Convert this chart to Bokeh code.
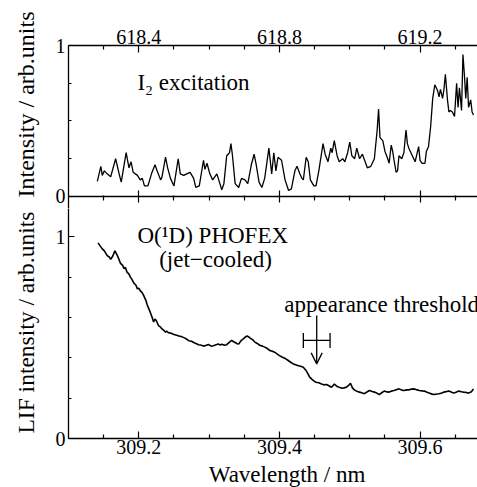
import numpy as np
from bokeh.plotting import figure
from bokeh.models import Range1d, LinearAxis, FixedTicker, Label, Arrow, OpenHead, Title
from bokeh.layouts import column
from bokeh.embed import file_html
from bokeh.resources import INLINE

FONT = "Liberation Serif"

# ---------------- data ----------------
wl_start, wl_end = 309.1, 309.6817

i2_wl = [309.141, 309.146, 309.148, 309.151, 309.155, 309.160, 309.167, 309.172, 309.175, 309.182,
         309.186, 309.189, 309.192, 309.198, 309.202, 309.205, 309.208, 309.213, 309.218, 309.223,
         309.226, 309.231, 309.233, 309.238, 309.241, 309.245, 309.250, 309.256, 309.259, 309.264,
         309.268, 309.273,
         309.278, 309.281, 309.286, 309.292, 309.294, 309.297, 309.301, 309.305, 309.311, 309.313,
         309.318, 309.321, 309.325, 309.329, 309.331, 309.333, 309.337, 309.342, 309.346, 309.351,
         309.355, 309.360, 309.364, 309.367, 309.371, 309.375, 309.379, 309.385, 309.389, 309.392,
         309.395, 309.398,
         309.403, 309.408, 309.413, 309.417, 309.422, 309.425, 309.429, 309.432, 309.434, 309.438,
         309.441, 309.444, 309.449, 309.452, 309.456, 309.462, 309.465, 309.469, 309.473, 309.475,
         309.478, 309.482, 309.485, 309.490, 309.493, 309.497, 309.500, 309.503, 309.507, 309.510,
         309.514, 309.518, 309.525, 309.530, 309.535, 309.539, 309.541,
         309.543, 309.547, 309.550, 309.554, 309.556, 309.559, 309.561, 309.563, 309.566, 309.568,
         309.570, 309.574, 309.577, 309.580, 309.582, 309.584, 309.587, 309.589, 309.593, 309.595,
         309.598, 309.600, 309.603, 309.607, 309.609, 309.612, 309.615, 309.618, 309.621, 309.625,
         309.627, 309.629, 309.632, 309.634, 309.636, 309.639, 309.641, 309.643, 309.646, 309.649,
         309.652, 309.654, 309.656, 309.659, 309.661, 309.663, 309.665, 309.667, 309.669, 309.672,
         309.674, 309.676]
i2_int = [0.10, 0.20, 0.14, 0.17, 0.15, 0.13, 0.25, 0.15, 0.095, 0.29,
          0.19, 0.23, 0.16, 0.14, 0.11, 0.12, 0.07, 0.07, 0.15, 0.21,
          0.17, 0.11, 0.13, 0.26, 0.19, 0.12, 0.07, 0.25, 0.15, 0.14,
          0.15, 0.16,
          0.12, 0.06, 0.07, 0.24, 0.18, 0.22, 0.15, 0.11, 0.15, 0.12,
          0.045, 0.085, 0.27, 0.29, 0.35, 0.28, 0.085, 0.06, 0.12, 0.11,
          0.085, 0.21, 0.28, 0.21, 0.095, 0.06, 0.12, 0.32, 0.15, 0.29,
          0.17, 0.26,
          0.24, 0.11, 0.04, 0.05, 0.17, 0.20, 0.15, 0.12, 0.11, 0.26,
          0.23, 0.11, 0.07, 0.07, 0.17, 0.35, 0.28, 0.23, 0.32, 0.29,
          0.37, 0.27, 0.23, 0.25, 0.23, 0.29, 0.36, 0.27, 0.25, 0.32,
          0.25, 0.28, 0.19, 0.20, 0.25, 0.44, 0.58,
          0.39, 0.37, 0.30, 0.25, 0.22, 0.34, 0.30, 0.24, 0.16, 0.17,
          0.27, 0.25, 0.29, 0.44, 0.35, 0.32, 0.29, 0.27, 0.23, 0.27,
          0.33, 0.24, 0.22, 0.22, 0.30, 0.33, 0.46, 0.65, 0.74, 0.70,
          0.66, 0.71, 0.65, 0.71, 0.81, 0.64, 0.56, 0.57, 0.56, 0.53,
          0.75, 0.59, 0.72, 0.57, 0.94, 0.81, 0.65, 0.79, 0.59, 0.64,
          0.56, 0.54]

lif_wl = [309.142, 309.145, 309.148, 309.151, 309.155, 309.158, 309.160, 309.163, 309.166, 309.169,
          309.171, 309.174, 309.177, 309.179, 309.181, 309.183, 309.186, 309.188, 309.190, 309.193,
          309.196, 309.198, 309.200, 309.202, 309.205, 309.207, 309.210, 309.212, 309.214, 309.216,
          309.219, 309.221, 309.223, 309.225, 309.228, 309.231, 309.233, 309.236, 309.238, 309.240,
          309.242, 309.246, 309.250, 309.254, 309.257, 309.261, 309.264, 309.268, 309.271, 309.275,
          309.278, 309.282, 309.285, 309.289, 309.292, 309.296, 309.299, 309.303, 309.306, 309.310,
          309.313, 309.316, 309.318, 309.322, 309.325, 309.329, 309.332, 309.335, 309.337, 309.340,
          309.342, 309.344, 309.346, 309.349, 309.351, 309.354, 309.356, 309.358, 309.360, 309.363,
          309.365, 309.369, 309.372, 309.376, 309.379, 309.383, 309.386, 309.390, 309.393, 309.397,
          309.400, 309.403, 309.405, 309.409, 309.412, 309.416, 309.419, 309.423, 309.426, 309.430,
          309.434, 309.436, 309.438, 309.441, 309.443, 309.446, 309.448, 309.450, 309.452, 309.456,
          309.459, 309.463, 309.467, 309.471, 309.474, 309.476, 309.478, 309.482, 309.485, 309.489,
          309.492, 309.495, 309.498, 309.501, 309.504, 309.507, 309.511, 309.514, 309.518, 309.521,
          309.525, 309.528, 309.532, 309.535, 309.539, 309.542, 309.546, 309.549, 309.553, 309.556,
          309.560, 309.563, 309.567, 309.570, 309.574, 309.577, 309.581, 309.584, 309.588, 309.592,
          309.596, 309.599, 309.603, 309.606, 309.610, 309.613, 309.617, 309.620, 309.624, 309.627,
          309.631, 309.634, 309.638, 309.641, 309.645, 309.648, 309.652, 309.655, 309.659, 309.662,
          309.666, 309.669, 309.673, 309.676]
lif_int = [0.970, 0.955, 0.940, 0.930, 0.907, 0.900, 0.888, 0.905, 0.930, 0.910,
           0.895, 0.868, 0.858, 0.842, 0.848, 0.826, 0.815, 0.800, 0.790, 0.770,
           0.760, 0.742, 0.745, 0.733, 0.722, 0.708, 0.685, 0.662, 0.645, 0.628,
           0.600, 0.578, 0.592, 0.584, 0.560, 0.552, 0.543, 0.535, 0.527, 0.532,
           0.525, 0.522, 0.516, 0.512, 0.508, 0.505, 0.500, 0.493, 0.485, 0.482,
           0.476, 0.470, 0.465, 0.462, 0.458, 0.462, 0.466, 0.458, 0.460, 0.465,
           0.468, 0.464, 0.467, 0.462, 0.465, 0.478, 0.486, 0.480, 0.476, 0.470,
           0.468, 0.478, 0.487, 0.495, 0.502, 0.508, 0.505, 0.498, 0.494, 0.486,
           0.478, 0.470, 0.462, 0.458, 0.453, 0.446, 0.437, 0.433, 0.428, 0.418,
           0.411, 0.405, 0.402, 0.395, 0.388, 0.378, 0.371, 0.366, 0.362, 0.358,
           0.353, 0.345, 0.337, 0.318, 0.304, 0.294, 0.288, 0.283, 0.279, 0.276,
           0.271, 0.266, 0.268, 0.260, 0.254, 0.262, 0.270, 0.258, 0.254, 0.249,
           0.251, 0.254, 0.262, 0.274, 0.250, 0.240, 0.233, 0.230, 0.226, 0.222,
           0.232, 0.238, 0.233, 0.230, 0.224, 0.218, 0.228, 0.235, 0.231, 0.230,
           0.236, 0.238, 0.243, 0.246, 0.240, 0.238, 0.241, 0.241, 0.245, 0.246,
           0.241, 0.238, 0.236, 0.235, 0.229, 0.225, 0.220, 0.218, 0.221, 0.222,
           0.226, 0.230, 0.233, 0.235, 0.229, 0.225, 0.231, 0.235, 0.232, 0.230,
           0.228, 0.225, 0.232, 0.246]

threshold_nm = 309.453
threshold_err = 0.019
thr_bar_y = 0.486
thr_arrow_top, thr_arrow_bottom = 0.61, 0.37

bottom_ticks = [309.2, 309.4, 309.6]
top_ticks = [618.4, 618.8, 619.2]
minor_step = 0.05

assert len(i2_wl) == len(i2_int)
assert len(lif_wl) == len(lif_int)

bottom_minor = [round(v, 3) for v in np.arange(309.15, wl_end, minor_step) if round(v, 3) not in bottom_ticks]
top_minor = [round(2 * v, 3) for v in bottom_minor]

# ---------------- styling helpers ----------------
def style_axis(ax, label_size="20px", tick_in=7, minor_in=4, standoff=0, line=True,
               tick_out=0, minor_out=0):
    ax.major_tick_in = tick_in
    ax.major_tick_out = tick_out
    ax.minor_tick_in = minor_in
    ax.minor_tick_out = minor_out
    ax.major_tick_line_color = "black"
    ax.minor_tick_line_color = "black"
    ax.major_tick_line_width = 1.2
    ax.minor_tick_line_width = 1.2
    ax.axis_line_color = "black" if line else None
    ax.axis_line_width = 1.3
    ax.major_label_text_font = FONT
    ax.major_label_text_color = "black"
    ax.major_label_standoff = standoff
    ax.major_label_text_font_size = label_size


def style_fig(p):
    p.outline_line_color = None
    p.background_fill_color = "white"
    p.border_fill_color = "white"
    p.grid.visible = False


def text_label(p, txt, x, y):
    p.add_layout(Label(x=x, y=y, text=txt, text_font=FONT, text_font_size="23px",
                       text_color="black", text_baseline="middle", text_align="left"))


x_range = Range1d(wl_start, wl_end)

# ---------------- top panel (I2 excitation) ----------------
p1 = figure(width=477, height=208, x_range=x_range, y_range=Range1d(-0.0795, 1),
            output_backend="svg", toolbar_location=None,
            x_axis_location=None, y_axis_location=None,
            min_border_left=66, min_border_right=0, min_border_top=45, min_border_bottom=0)
p1.extra_x_ranges = {"top": Range1d(2 * wl_start, 2 * wl_end)}
style_fig(p1)

ax = LinearAxis(x_range_name="top", ticker=FixedTicker(ticks=top_ticks, minor_ticks=top_minor))
style_axis(ax, standoff=2)
p1.add_layout(ax, "above")

ax = LinearAxis(ticker=FixedTicker(ticks=[0, 1], minor_ticks=[0.25, 0.5, 0.75]))
style_axis(ax, tick_in=6, minor_in=3, standoff=3)
p1.add_layout(ax, "left")

# baseline of the top panel, shared with the lower panel
ax = LinearAxis(fixed_location=0, ticker=FixedTicker(ticks=[], minor_ticks=bottom_ticks))
style_axis(ax, minor_in=6, minor_out=6)
p1.add_layout(ax, "below")
ax = LinearAxis(fixed_location=0, ticker=FixedTicker(ticks=[], minor_ticks=bottom_minor))
style_axis(ax, minor_in=1, minor_out=4, line=False)
p1.add_layout(ax, "below")

p1.line(i2_wl, i2_int, line_color="black", line_width=1.3)

text_label(p1, "I₂ excitation", 309.198, 0.752)
p1.add_layout(Title(text="Intensity / arb.units", align="left", offset=11,
                    vertical_align="top", standoff=24, text_font=FONT,
                    text_font_size="24px", text_font_style="normal", text_color="black"), "left")

# ---------------- bottom panel (O(1D) PHOFEX) ----------------
p2 = figure(width=477, height=252, x_range=x_range, y_range=Range1d(0, 1.1403),
            output_backend="svg", toolbar_location=None,
            x_axis_location=None, y_axis_location=None,
            min_border_left=66, min_border_right=0, min_border_top=0, min_border_bottom=22)
style_fig(p2)

ax = LinearAxis(ticker=FixedTicker(ticks=bottom_ticks, minor_ticks=bottom_minor))
style_axis(ax, standoff=1)
p2.add_layout(ax, "below")

ax = LinearAxis(ticker=FixedTicker(ticks=[0, 1], minor_ticks=[0.2, 0.4, 0.6, 0.8]))
style_axis(ax, tick_in=6, minor_in=3, standoff=3)
p2.add_layout(ax, "left")

p2.line(lif_wl, lif_int, line_color="black", line_width=1.6)

# appearance threshold marker
p2.segment(x0=[threshold_nm - threshold_err], y0=[thr_bar_y],
           x1=[threshold_nm + threshold_err], y1=[thr_bar_y], line_color="black", line_width=1.3)
p2.segment(x0=[threshold_nm - threshold_err, threshold_nm + threshold_err],
           y0=[thr_bar_y - 0.037, thr_bar_y - 0.037],
           x1=[threshold_nm - threshold_err, threshold_nm + threshold_err],
           y1=[thr_bar_y + 0.037, thr_bar_y + 0.037], line_color="black", line_width=1.3)
p2.add_layout(Arrow(end=OpenHead(size=11, line_width=1.3, line_color="black"),
                    x_start=threshold_nm, y_start=thr_arrow_top,
                    x_end=threshold_nm, y_end=thr_arrow_bottom,
                    line_color="black", line_width=1.3))

text_label(p2, "O(¹D) PHOFEX", 309.198, 1.006)
text_label(p2, "(jet−cooled)", 309.229, 0.887)
text_label(p2, "appearance threshold", 309.407, 0.664)

p2.add_layout(Title(text="LIF intensity / arb.units", align="left", offset=5,
                    vertical_align="top", standoff=24, text_font=FONT,
                    text_font_size="23.5px", text_font_style="normal", text_color="black"), "left")

# ---------------- x-axis title strip ----------------
p3 = figure(width=477, height=27, x_range=x_range, y_range=Range1d(0, 1),
            output_backend="svg", toolbar_location=None,
            x_axis_location=None, y_axis_location=None,
            min_border_left=66, min_border_right=0, min_border_top=0, min_border_bottom=0)
style_fig(p3)
text_label(p3, "Wavelength / nm", 309.2995, 0.50)

layout = column(p1, p2, p3, spacing=0)
open("out.html", "w").write(file_html(layout, INLINE))
